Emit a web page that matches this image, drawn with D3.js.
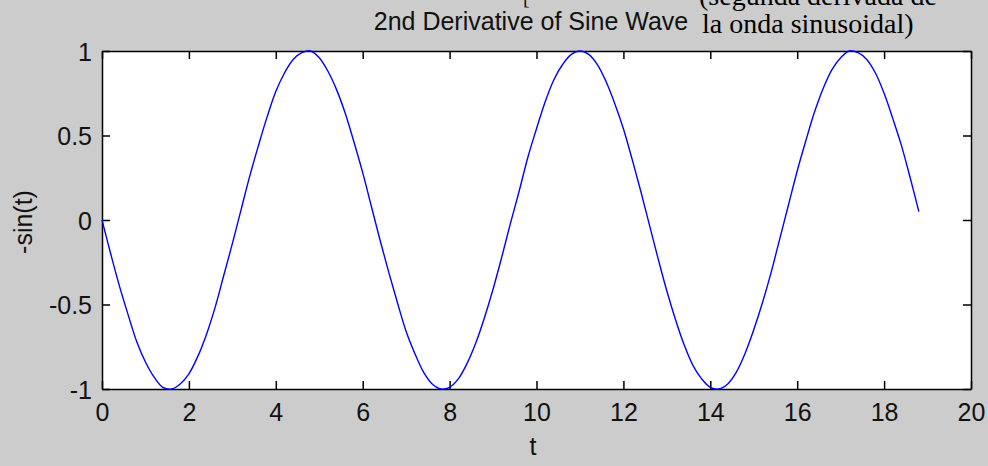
<!DOCTYPE html>
<html>
<head>
<meta charset="utf-8">
<script src="https://cdn.jsdelivr.net/npm/d3@7"></script>
<style>
  html, body { margin: 0; padding: 0; background: #cccccc; }
  svg { display: block; }
</style>
</head>
<body>
<svg id="chart"></svg>
<script>
// t samples and -sin(t) values
const tValues = [
  0, 0.2, 0.4, 0.6, 0.8, 1.0, 1.2, 1.4, 1.6, 1.8,
  2.0, 2.2, 2.4, 2.6, 2.8, 3.0, 3.2, 3.4, 3.6, 3.8,
  4.0, 4.2, 4.4, 4.6, 4.8, 5.0, 5.2, 5.4, 5.6, 5.8,
  6.0, 6.2, 6.4, 6.6, 6.8, 7.0, 7.2, 7.4, 7.6, 7.8,
  8.0, 8.2, 8.4, 8.6, 8.8, 9.0, 9.2, 9.4, 9.6, 9.8,
  10.0, 10.2, 10.4, 10.6, 10.8, 11.0, 11.2, 11.4, 11.6, 11.8,
  12.0, 12.2, 12.4, 12.6, 12.8, 13.0, 13.2, 13.4, 13.6, 13.8,
  14.0, 14.2, 14.4, 14.6, 14.8, 15.0, 15.2, 15.4, 15.6, 15.8,
  16.0, 16.2, 16.4, 16.6, 16.8, 17.0, 17.2, 17.4, 17.6, 17.8,
  18.0, 18.2, 18.4, 18.6, 18.8
];
const yValues = [
  0, -0.20, -0.39, -0.56, -0.72, -0.84, -0.93, -0.99, -1.00, -0.97,
  -0.91, -0.81, -0.68, -0.52, -0.33, -0.14, 0.06, 0.26, 0.44, 0.61,
  0.76, 0.87, 0.95, 0.99, 1.00, 0.96, 0.88, 0.77, 0.63, 0.46,
  0.28, 0.08, -0.12, -0.31, -0.49, -0.66, -0.79, -0.90, -0.97, -1.00,
  -0.99, -0.94, -0.85, -0.73, -0.58, -0.41, -0.22, -0.02, 0.17, 0.37,
  0.54, 0.70, 0.83, 0.92, 0.98, 1.00, 0.98, 0.92, 0.82, 0.69,
  0.54, 0.36, 0.17, -0.03, -0.23, -0.42, -0.59, -0.74, -0.86, -0.94,
  -0.99, -1.00, -0.97, -0.90, -0.79, -0.65, -0.49, -0.31, -0.11, 0.09,
  0.29, 0.47, 0.64, 0.78, 0.89, 0.96, 1.00, 0.99, 0.95, 0.87,
  0.75, 0.60, 0.44, 0.25, 0.05
];
const xTicks = [0, 2, 4, 6, 8, 10, 12, 14, 16, 18, 20];
const yTicks = [-1, -0.5, 0, 0.5, 1];

const width = 988, height = 466;
const plot = { left: 102, right: 971, top: 51, bottom: 389 };
const sansFont = "'Liberation Sans', Arial, Helvetica, sans-serif";
const serifFont = "'Liberation Serif', 'Times New Roman', serif";

const svg = d3.select("#chart")
    .attr("width", width)
    .attr("height", height);

svg.append("rect")
    .attr("width", width)
    .attr("height", height)
    .attr("fill", "#cccccc");

// white axes area
svg.append("rect")
    .attr("x", plot.left)
    .attr("y", plot.top)
    .attr("width", plot.right - plot.left)
    .attr("height", plot.bottom - plot.top)
    .attr("fill", "#ffffff");

const x = d3.scaleLinear().domain([0, 20]).range([plot.left, plot.right]);
const y = d3.scaleLinear().domain([-1, 1]).range([plot.bottom, plot.top]);

const tickLen = 8;
// plain hyphen for negatives, like the original
const fmt = d => String(d);

// bottom axis with labels
const gx = svg.append("g")
    .attr("transform", `translate(0,${plot.bottom})`)
    .call(d3.axisBottom(x).tickValues(xTicks).tickFormat(fmt)
        .tickSizeInner(-tickLen).tickSizeOuter(0).tickPadding(14));

// left axis with labels
const gy = svg.append("g")
    .attr("transform", `translate(${plot.left},0)`)
    .call(d3.axisLeft(y).tickValues(yTicks).tickFormat(fmt)
        .tickSizeInner(-tickLen).tickSizeOuter(0).tickPadding(10));

// top and right ticks, no labels
svg.append("g")
    .attr("transform", `translate(0,${plot.top})`)
    .call(d3.axisTop(x).tickValues(xTicks).tickFormat("")
        .tickSizeInner(-tickLen).tickSizeOuter(0));
svg.append("g")
    .attr("transform", `translate(${plot.right},0)`)
    .call(d3.axisRight(y).tickValues(yTicks).tickFormat("")
        .tickSizeInner(-tickLen).tickSizeOuter(0));

svg.selectAll(".domain").attr("stroke", "#000").attr("stroke-width", 1.5);
svg.selectAll(".tick line").attr("stroke", "#000").attr("stroke-width", 1.5);
svg.selectAll(".tick text")
    .attr("font-family", sansFont)
    .attr("font-size", "25px")
    .attr("fill", "#111");
gx.selectAll(".tick text").attr("dy", "0.71em");
gy.selectAll(".tick text").attr("dy", "0.36em");

// curve
const points = tValues.map((t, i) => [t, yValues[i]]);
svg.append("path")
    .datum(points)
    .attr("fill", "none")
    .attr("stroke", "#0000ff")
    .attr("stroke-width", 1.4)
    .attr("d", d3.line()
        .x(d => x(d[0]))
        .y(d => y(d[1]))
        .curve(d3.curveCatmullRom));

// axis labels
svg.append("text")
    .attr("x", 533)
    .attr("y", 455)
    .attr("text-anchor", "middle")
    .attr("font-family", sansFont)
    .attr("font-size", "25px")
    .attr("fill", "#111")
    .text("t");

svg.append("text")
    .attr("transform", "translate(32,222) rotate(-90)")
    .attr("text-anchor", "middle")
    .attr("font-family", sansFont)
    .attr("font-size", "25px")
    .attr("fill", "#111")
    .text("-sin(t)");

// title
svg.append("text")
    .attr("x", 531)
    .attr("y", 30)
    .attr("text-anchor", "middle")
    .attr("font-family", sansFont)
    .attr("font-size", "25px")
    .attr("fill", "#111")
    .text("2nd Derivative of Sine Wave");

// overlaid caption (partly cut off at the top, as in the source image)
svg.append("text")
    .attr("x", 523)
    .attr("y", 4)
    .attr("font-family", serifFont)
    .attr("font-size", "20px")
    .attr("fill", "#111")
    .text("[");

svg.append("text")
    .attr("x", 699)
    .attr("y", 5)
    .attr("font-family", serifFont)
    .attr("font-size", "28px")
    .attr("fill", "#000")
    .text("(segunda derivada de");

svg.append("text")
    .attr("x", 702)
    .attr("y", 33)
    .attr("font-family", serifFont)
    .attr("font-size", "28px")
    .attr("fill", "#000")
    .text("la onda sinusoidal)");
</script>
</body>
</html>
